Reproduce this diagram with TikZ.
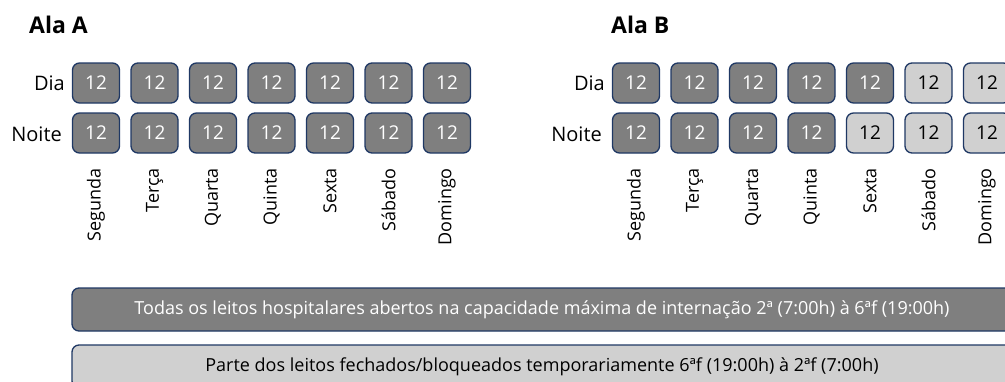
\documentclass[tikz,border=0pt]{standalone}
\usepackage{fontspec}
\setmainfont{Open Sans}
\definecolor{darkfill}{HTML}{7F7F7F}
\definecolor{lightfill}{HTML}{D0D0D0}
\definecolor{navy}{HTML}{1F3864}
\begin{document}
\begin{tikzpicture}[x=1pt,y=-1pt,
  cell/.style={draw=navy,line width=1.3pt,rounded corners=7pt,minimum width=47pt,minimum height=40pt,inner sep=0pt,font=\fontsize{19}{19}\selectfont},
  dk/.style={cell,fill=darkfill,text=white},
  lt/.style={cell,fill=lightfill,text=black},
  title/.style={font=\fontsize{23}{23}\selectfont\bfseries,anchor=base west,inner sep=0pt},
  rowlbl/.style={font=\fontsize{20}{20}\selectfont,anchor=base east,inner sep=0pt},
  daylbl/.style={font=\fontsize{18}{18}\selectfont,rotate=90,anchor=east,inner sep=0pt},
  bar/.style={draw=navy,line width=1.3pt,rounded corners=7pt,minimum width=940pt,minimum height=43pt,inner sep=0pt,font=\fontsize{18}{18}\selectfont}
]
\useasboundingbox (0,0) rectangle (1005,381);
\node[title] (ta) at (29,33) {Ala A};
\node[title] (tb) at (611,33) {Ala B};
\node[rowlbl] (da) at (65,90) {Dia};
\node[rowlbl] (na) at (62,141) {Noite};
\node[rowlbl] (db) at (605,90) {Dia};
\node[rowlbl] (nb) at (602,141) {Noite};
\foreach \d [count=\i from 0] in {Segunda,Terça,Quarta,Quinta,Sexta,Sábado,Domingo}{
  \node[dk] (a1\i) at (96+58.5*\i,83) {12};
  \node[dk] (a2\i) at (96+58.5*\i,133) {12};
  \node[daylbl] (ad\i) at (96+58.5*\i,168) {\d};
  \node[daylbl] (bd\i) at (636+58.5*\i,168) {\d};
}
\foreach \i in {0,1,2,3,4}{\node[dk] (b1\i) at (636+58.5*\i,83) {12};}
\foreach \i in {5,6}{\node[lt] (b1\i) at (636+58.5*\i,83) {12};}
\foreach \i in {0,1,2,3}{\node[dk] (b2\i) at (636+58.5*\i,133) {12};}
\foreach \i in {4,5,6}{\node[lt] (b2\i) at (636+58.5*\i,133) {12};}
\node[bar,fill=darkfill,text=white] (bar1) at (542,309.5) {Todas os leitos hospitalares abertos na capacidade máxima de internação 2ª (7:00h) à 6ªf (19:00h)};
\node[bar,fill=lightfill,text=black] (bar2) at (542,366.5) {Parte dos leitos fechados/bloqueados temporariamente 6ªf (19:00h) à 2ªf (7:00h)};
\end{tikzpicture}
\end{document}
